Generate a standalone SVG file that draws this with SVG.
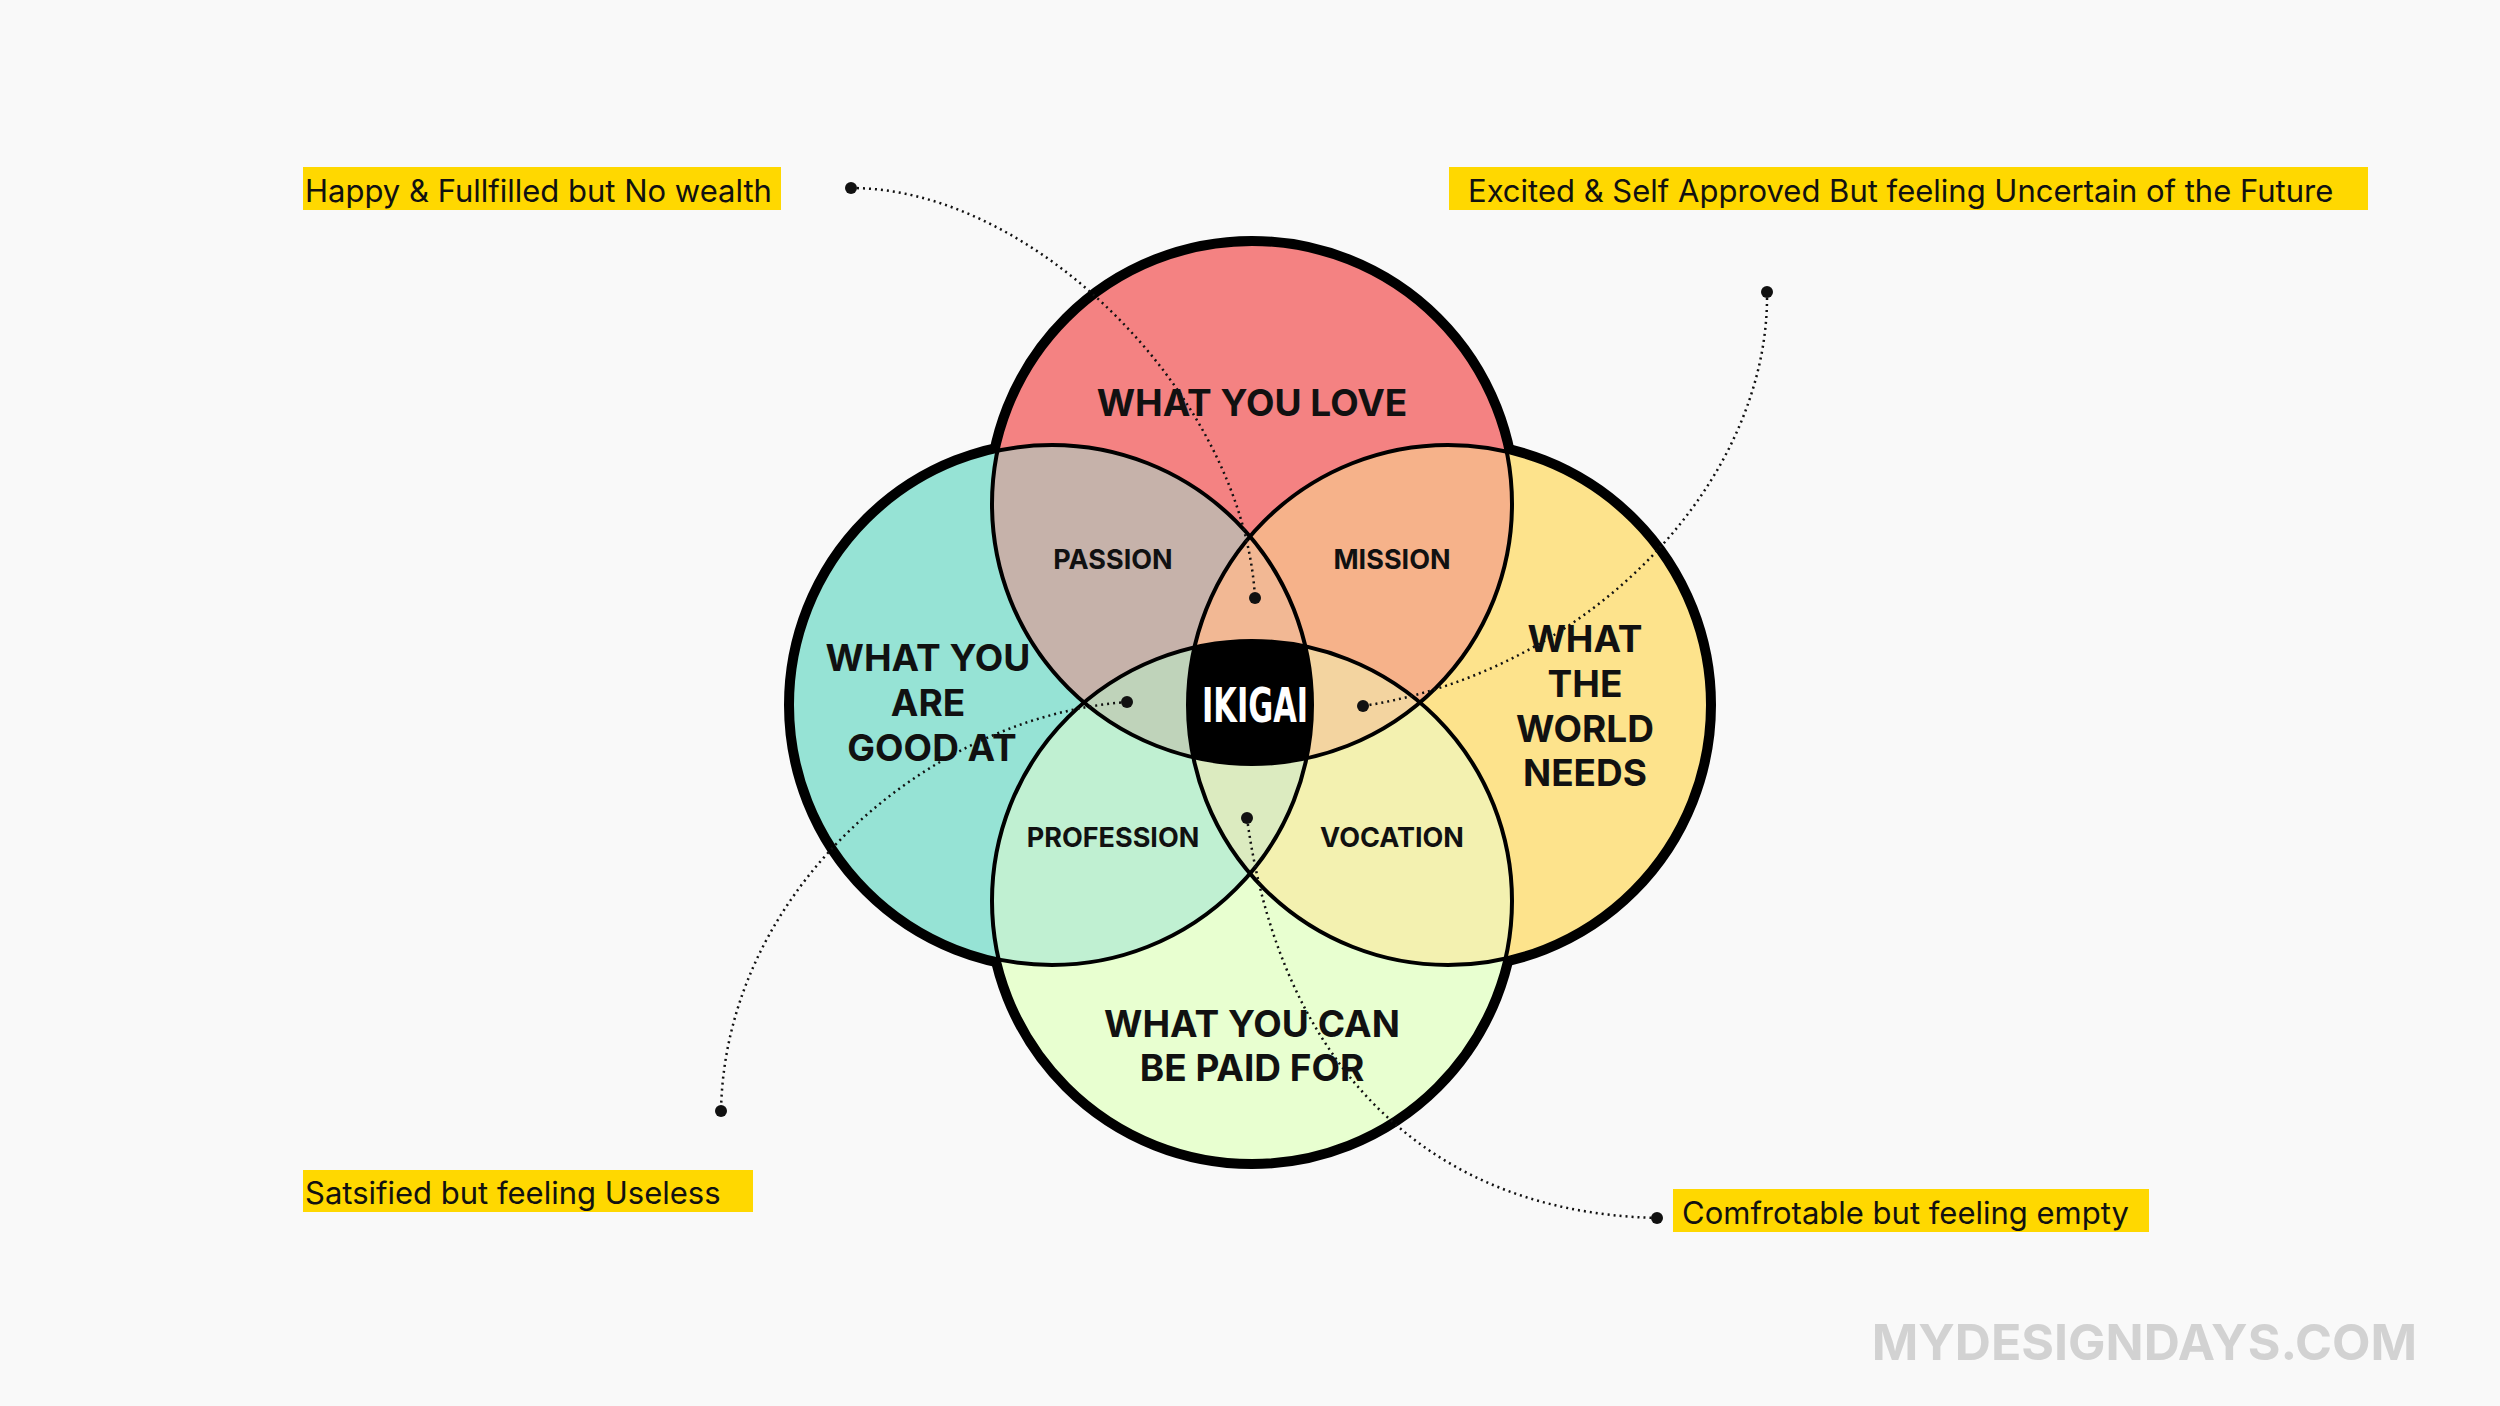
<svg xmlns="http://www.w3.org/2000/svg" width="2500" height="1406" viewBox="0 0 2500 1406">
<style>
.big{font-family:Inter,"Liberation Sans",sans-serif;font-weight:700;font-size:37px;fill:#111;text-anchor:middle}
.mid{font-family:Inter,"Liberation Sans",sans-serif;font-weight:700;font-size:27px;fill:#111;text-anchor:middle}
.lab{font-family:Inter,"Liberation Sans",sans-serif;font-size:31px;fill:#111}
.hl{fill:#FFD800}
.con{fill:none;stroke:#111;stroke-width:2.5;stroke-dasharray:2 4}
.dot{fill:#111}
</style>
<defs>
<clipPath id="cT"><circle cx="1252" cy="504" r="260"/></clipPath>
<clipPath id="cL"><circle cx="1052" cy="705" r="260"/></clipPath>
<clipPath id="cR"><circle cx="1448" cy="705" r="260"/></clipPath>
<clipPath id="cB"><circle cx="1252" cy="901" r="260"/></clipPath>
</defs>
<rect width="2500" height="1406" fill="#F9F9F9"/>
<g id="venn">
<g fill="none" stroke="#000" stroke-width="16">
<circle cx="1252" cy="504" r="260"/><circle cx="1052" cy="705" r="260"/><circle cx="1448" cy="705" r="260"/><circle cx="1252" cy="901" r="260"/>
</g>
<circle cx="1252" cy="504" r="260" fill="#F48282"/>
<circle cx="1052" cy="705" r="260" fill="#96E3D5"/>
<circle cx="1448" cy="705" r="260" fill="#FDE38C"/>
<circle cx="1252" cy="901" r="260" fill="#E8FFD0"/>
<circle cx="1052" cy="705" r="260" fill="#C6B2AA" clip-path="url(#cT)"/>
<circle cx="1448" cy="705" r="260" fill="#F6B28A" clip-path="url(#cT)"/>
<circle cx="1052" cy="705" r="260" fill="#C0F0D2" clip-path="url(#cB)"/>
<circle cx="1448" cy="705" r="260" fill="#F3F1B0" clip-path="url(#cB)"/>
<g clip-path="url(#cL)"><circle cx="1448" cy="705" r="260" fill="#F2B894" clip-path="url(#cT)"/></g>
<g clip-path="url(#cL)"><circle cx="1252" cy="901" r="260" fill="#BFD3BA" clip-path="url(#cT)"/></g>
<g clip-path="url(#cR)"><circle cx="1252" cy="901" r="260" fill="#F3D4A0" clip-path="url(#cT)"/></g>
<g clip-path="url(#cR)"><circle cx="1252" cy="901" r="260" fill="#DCEBC0" clip-path="url(#cL)"/></g>
<g clip-path="url(#cR)"><g clip-path="url(#cL)"><circle cx="1252" cy="901" r="260" fill="#000" clip-path="url(#cT)"/></g></g>
<g fill="none" stroke="#000" stroke-width="4">
<circle cx="1252" cy="504" r="260"/><circle cx="1052" cy="705" r="260"/><circle cx="1448" cy="705" r="260"/><circle cx="1252" cy="901" r="260"/>
</g>
</g>
<g id="texts">
<text class="big" x="1252" y="416">WHAT YOU LOVE</text>
<text class="mid" x="1113" y="569">PASSION</text>
<text class="mid" x="1392" y="569">MISSION</text>
<text class="mid" x="1113" y="847">PROFESSION</text>
<text class="mid" x="1392" y="847">VOCATION</text>
<text class="big" x="928" y="671">WHAT YOU</text>
<text class="big" x="928" y="716">ARE</text>
<text class="big" x="932" y="761">GOOD AT</text>
<text class="big" x="1585" y="652">WHAT</text>
<text class="big" x="1585" y="697">THE</text>
<text class="big" x="1585" y="742">WORLD</text>
<text class="big" x="1585" y="786">NEEDS</text>
<text class="big" x="1252" y="1037">WHAT YOU CAN</text>
<text class="big" x="1252" y="1081">BE PAID FOR</text>
<text x="1255" y="722" font-family="'DejaVu Sans',sans-serif" font-stretch="condensed" font-weight="700" font-size="48" fill="#fff" text-anchor="middle" textLength="106" lengthAdjust="spacingAndGlyphs">IKIGAI</text>
</g>
<g id="connectors">
<path class="con" d="M851,188 C1036,188 1244,399 1255,598"/>
<path class="con" d="M1767,292 C1770,478 1594,670 1363,706"/>
<path class="con" d="M1127,702 C925,717 725,893 721,1111"/>
<path class="con" d="M1247,818 C1276,1036 1403,1212 1657,1218"/>
<circle class="dot" cx="851" cy="188" r="6"/><circle class="dot" cx="1255" cy="598" r="6"/>
<circle class="dot" cx="1767" cy="292" r="6"/><circle class="dot" cx="1363" cy="706" r="6"/>
<circle class="dot" cx="1127" cy="702" r="6"/><circle class="dot" cx="721" cy="1111" r="6"/>
<circle class="dot" cx="1247" cy="818" r="6"/><circle class="dot" cx="1657" cy="1218" r="6"/>
</g>
<g id="label1"><rect class="hl" x="303" y="167" width="478" height="43"/><text class="lab" x="305" y="202">Happy &amp; Fullfilled but No wealth</text></g>
<g id="label2"><rect class="hl" x="1449" y="167" width="919" height="43"/><text class="lab" x="1468" y="202">Excited &amp; Self Approved But feeling Uncertain of the Future</text></g>
<g id="label3"><rect class="hl" x="303" y="1170" width="450" height="42"/><text class="lab" x="305" y="1204">Satsified but feeling Useless</text></g>
<g id="label4"><rect class="hl" x="1673" y="1189" width="476" height="43"/><text class="lab" x="1682" y="1224">Comfrotable but feeling empty</text></g>
<text x="2417" y="1360" font-family="Inter,'Liberation Sans',sans-serif" font-weight="700" font-size="50" fill="#D2D2D2" text-anchor="end">MYDESIGNDAYS.COM</text>
</svg>
